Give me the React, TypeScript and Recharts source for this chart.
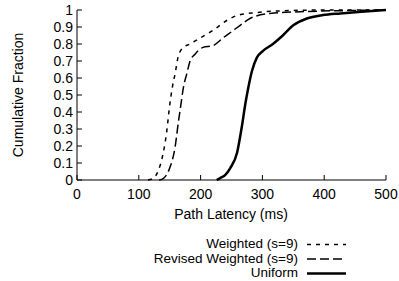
import { LineChart, Line, XAxis, YAxis } from "recharts";

const xTicks = [0, 100, 200, 300, 400, 500];
const yTicks = [0, 0.1, 0.2, 0.3, 0.4, 0.5, 0.6, 0.7, 0.8, 0.9, 1];

const weightedX = [115, 123, 131, 139, 145, 150, 154, 159, 164, 172, 183, 199, 220, 243, 261, 290, 330, 400, 500];
const weightedY = [0, 0.01, 0.05, 0.15, 0.28, 0.44, 0.54, 0.63, 0.73, 0.78, 0.8, 0.835, 0.88, 0.94, 0.97, 0.985, 0.995, 1, 1];

const revisedX = [133, 140, 150, 159, 164, 168, 172, 178, 183, 191, 204, 220, 236, 253, 264, 280, 312, 361, 442, 500];
const revisedY = [0, 0.01, 0.07, 0.2, 0.34, 0.44, 0.54, 0.63, 0.7, 0.74, 0.78, 0.79, 0.835, 0.88, 0.91, 0.95, 0.98, 0.99, 0.997, 1];

const uniformX = [226, 231, 240, 248, 259, 267, 272, 277, 283, 291, 301, 317, 333, 350, 372, 398, 426, 460, 500];
const uniformY = [0, 0.01, 0.03, 0.07, 0.16, 0.32, 0.44, 0.54, 0.64, 0.72, 0.76, 0.8, 0.85, 0.91, 0.95, 0.97, 0.98, 0.99, 1];

const series = [
  { name: "Weighted (s=9)", xs: weightedX, ys: weightedY, dash: "4 5", width: 1.5 },
  { name: "Revised Weighted (s=9)", xs: revisedX, ys: revisedY, dash: "9 4", width: 1.5 },
  { name: "Uniform", xs: uniformX, ys: uniformY, dash: undefined, width: 2.5 },
];

const font = "'Liberation Sans', Arial, sans-serif";
const tickStyle = { fontSize: 14, fill: "#000", fontFamily: font };

export default function App() {
  return (
    <div style={{ position: "absolute", left: 0, top: 0, width: 399, height: 281, background: "#fff" }}>
      <LineChart width={399} height={281} margin={{ top: 10, right: 13, bottom: 61, left: 17 }}>
        <XAxis
          xAxisId="b"
          type="number"
          dataKey="x"
          domain={[0, 500]}
          ticks={xTicks}
          interval={0}
          tickSize={-5}
          tickMargin={14}
          height={40}
          stroke="#000"
          tick={tickStyle}
          allowDataOverflow
        />
        <XAxis
          xAxisId="t"
          orientation="top"
          type="number"
          dataKey="x"
          domain={[0, 500]}
          ticks={xTicks}
          interval={0}
          tickSize={-5}
          tickFormatter={() => ""}
          height={0}
          stroke="#000"
        />
        <YAxis
          yAxisId="l"
          type="number"
          domain={[0, 1]}
          ticks={yTicks}
          interval={0}
          tickSize={-5}
          tickMargin={9}
          width={60}
          stroke="#000"
          tick={tickStyle}
          label={{
            value: "Cumulative Fraction",
            angle: -90,
            position: "center",
            dx: -29,
            style: { fontSize: 14, fill: "#000", fontFamily: font },
          }}
        />
        <YAxis
          yAxisId="r"
          orientation="right"
          type="number"
          domain={[0, 1]}
          ticks={yTicks}
          interval={0}
          tickSize={-5}
          tickFormatter={() => ""}
          width={0}
          stroke="#000"
        />
        {series.map((s) => (
          <Line
            key={s.name}
            xAxisId="b"
            yAxisId="l"
            name={s.name}
            data={s.xs.map((x, i) => ({ x, y: s.ys[i] }))}
            dataKey="y"
            type="monotone"
            stroke="#000"
            strokeWidth={s.width}
            strokeDasharray={s.dash}
            dot={false}
            isAnimationActive={false}
          />
        ))}
      </LineChart>
      <div
        style={{
          position: "absolute",
          left: 151,
          top: 206,
          width: 160,
          textAlign: "center",
          whiteSpace: "nowrap",
          fontFamily: font,
          fontSize: 14,
          color: "#000",
        }}
      >
        Path Latency (ms)
      </div>
      <svg width={399} height={60} style={{ position: "absolute", left: 0, top: 230 }}>
        {series.map((s, i) => (
          <g key={s.name}>
            <text
              x={298}
              y={14.5 + i * 14.5}
              textAnchor="end"
              dominantBaseline="middle"
              fontFamily={font}
              fontSize={13.5}
              fill="#000"
            >
              {s.name}
            </text>
            <line
              x1={307}
              x2={346}
              y1={14.5 + i * 14.5}
              y2={14.5 + i * 14.5}
              stroke="#000"
              strokeWidth={s.width}
              strokeDasharray={s.dash}
            />
          </g>
        ))}
      </svg>
    </div>
  );
}
